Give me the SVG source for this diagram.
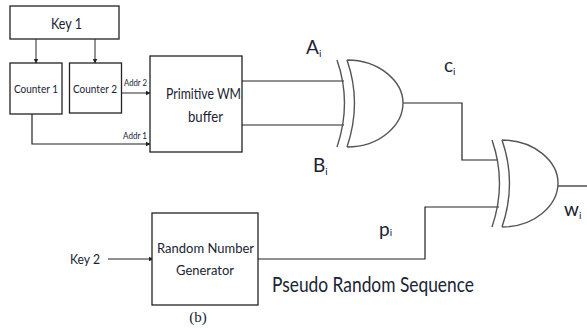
<svg xmlns="http://www.w3.org/2000/svg" width="587" height="329" viewBox="0 0 587 329">
<defs>
<marker id="arr" markerWidth="5" markerHeight="6" refX="4.5" refY="3" orient="auto" markerUnits="userSpaceOnUse"><path d="M0,0.5 L5,3 L0,5.5 Z" fill="#222"/></marker>
<path id="gate" d="M337,60 Q352,103 337,147 M347,60 Q362,103 347,147 M347,60 C380,60 403,82 403,103 C403,125 380,147 347,147"/>
</defs>
<style>
text{font-family:Lato,"Liberation Sans",sans-serif;fill:#1a2333}
.b{fill:#fff;stroke:#222;stroke-width:1.3}
.c{fill:none;stroke:#222;stroke-width:1.2}
.g{fill:none;stroke:#555;stroke-width:1.4}
.a{fill:none;stroke:#666;stroke-width:1.4;marker-end:url(#arr)}
.s{font-size:10px}
.m{font-size:12px}
.l{font-size:16px}
.x{font-size:19px}
.i{font-size:10px}
</style>
<rect width="587" height="329" fill="#fff"/>
<g id="connectors">
<path class="a" d="M36,39 V63"/>
<path class="a" d="M95,39 V63"/>
<path class="a" d="M121,93 H150"/>
<path class="c" style="marker-end:url(#arr)" d="M32,114 V144 H150"/>
<path class="c" d="M240,81 H344 M240,125 H344"/>
<path class="c" d="M403,103 H462 V160 H498"/>
<path class="c" d="M258,259 H425 V207 H499"/>
<path class="c" d="M558,186 H587"/>
<path class="c" style="marker-end:url(#arr)" d="M108,259 H153"/>
</g>
<g id="key1"><rect class="b" x="10" y="6" width="109" height="33"/><text class="l" x="51" y="29" textLength="31" lengthAdjust="spacingAndGlyphs">Key 1</text></g>
<g id="counter1"><rect class="b" x="10" y="63" width="52" height="51"/><text class="m" x="14" y="93" textLength="44" lengthAdjust="spacingAndGlyphs">Counter 1</text></g>
<g id="counter2"><rect class="b" x="69.500" y="63" width="52" height="50"/><text class="m" x="73" y="93" textLength="44" lengthAdjust="spacingAndGlyphs">Counter 2</text></g>
<g id="addr2"><text class="s" x="124" y="86" textLength="23" lengthAdjust="spacingAndGlyphs">Addr 2</text></g>
<g id="addr1"><text class="s" x="123" y="139" textLength="24" lengthAdjust="spacingAndGlyphs">Addr 1</text></g>
<g id="buffer"><rect class="b" x="150" y="56" width="92" height="96"/><text class="l" x="166" y="99" textLength="75" lengthAdjust="spacingAndGlyphs">Primitive WM</text><text class="l" x="188" y="122" textLength="35" lengthAdjust="spacingAndGlyphs">buffer</text></g>
<g id="xor1"><use href="#gate" class="g"/></g>
<g id="xor2"><use href="#gate" class="g" x="155" y="80"/></g>
<g id="rng"><rect class="b" x="152" y="213" width="106" height="92"/><text class="m" x="157" y="253" textLength="97" lengthAdjust="spacingAndGlyphs" style="font-size:14px">Random Number</text><text class="m" x="176" y="275" textLength="58" lengthAdjust="spacingAndGlyphs" style="font-size:14px">Generator</text></g>
<g id="labels">
<text class="m" x="70" y="264" textLength="30" lengthAdjust="spacingAndGlyphs" style="font-size:14px">Key 2</text>
<text class="x" x="306" y="54">A<tspan class="i" dy="3">i</tspan></text>
<text class="x" x="444" y="72">c<tspan class="i" dy="3">i</tspan></text>
<text class="x" x="313" y="172">B<tspan class="i" dy="3">i</tspan></text>
<text class="x" x="564" y="216">w<tspan class="i" dy="3">i</tspan></text>
<text class="x" x="379" y="236">p<tspan class="i">i</tspan></text>
<text x="272" y="292" textLength="202" lengthAdjust="spacingAndGlyphs" style="font-size:21px">Pseudo Random Sequence</text>
<text x="198" y="322" text-anchor="middle" style="font-family:'Liberation Serif',serif;font-size:15px">(b)</text>
</g>
</svg>
